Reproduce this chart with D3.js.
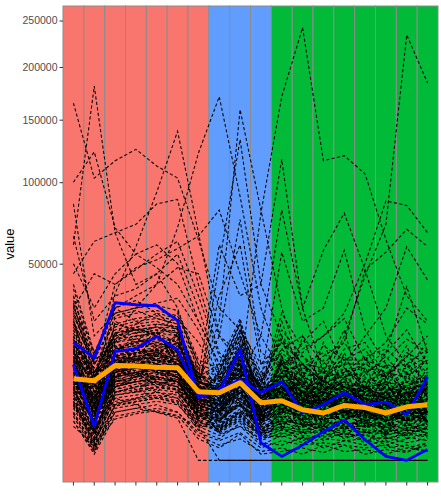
<!DOCTYPE html>
<html>
<head>
<meta charset="utf-8">
<script src="https://cdn.jsdelivr.net/npm/d3@7"></script>
<style>
  body { margin: 0; background: #fff; }
  svg { display: block; }
</style>
</head>
<body>
<svg id="chart" width="441" height="501"></svg>
<script>
// x positions (no labels shown on the axis) and the group each one belongs to
const categories = ["P01","P02","P03","P04","P05","P06","P07","P08","P09",
                    "P10","P11","P12","P13","P14","P15","P16","P17","P18"];
const groups = ["A","A","A","A","A","A","A","B","B","B","C","C","C","C","C","C","C","C"];
const groupColors = {A: "#F8766D", B: "#619CFF", C: "#00BA38"};
const yTicks = [50000, 100000, 150000, 200000, 250000];

// highlighted lines, values in thousands
const meanLine = [8.6, 8.2, 11.6, 11.5, 11.2, 11.1, 6.1, 5.9, 7.8, 4.3, 4.6, 3.3, 2.9, 3.9, 3.6, 2.9, 3.7, 4.0];
const blueLineA = [17.9, 13.6, 32.1, 31.3, 30.9, 25.2, 5.1, 6.1, 15.8, 0.4, 0.02, 0.3, 1.06, 2.1, 0.55, 0.02, 0, 0.15];
const blueLineB = [11.8, 1.5, 15.3, 16.1, 19.8, 15.8, 5.6, 6.5, 8.4, 5.9, 8.0, 2.9, 4.0, 5.9, 4.0, 4.4, 2.7, 9.0];

// individual traces with large values, in thousands
const highLines = [
  [165, 103, 116, 125, 112, 103, 63, 30, 22, 12, 14, 9, 7, 11, 6, 8, 5, 7],
  [60, 181, 67, 40, 45, 30, 10, 6, 12, 4, 6, 3, 5, 4, 3, 2, 3, 4],
  [100, 123, 70, 55, 60, 50, 25, 12, 8, 6, 5, 9, 4, 3, 5, 4, 3, 2],
  [20, 8, 36, 59, 93, 140, 67, 20, 15, 8, 6, 4, 5, 3, 4, 2, 3, 2],
  [45, 62, 67, 72, 85, 88, 40, 15, 10, 6, 8, 5, 4, 6, 3, 4, 2, 3],
  [30, 45, 40, 48, 52, 58, 65, 81, 45, 20, 10, 6, 5, 4, 6, 3, 2, 4],
  [15, 10, 20, 30, 40, 70, 122, 171, 90, 30, 12, 8, 6, 5, 4, 6, 3, 5],
  [10, 5, 12, 15, 14, 12, 8, 25, 159, 81, 30, 10, 8, 6, 5, 7, 4, 3],
  [8, 4, 10, 12, 10, 9, 6, 50, 133, 40, 117, 30, 10, 7, 5, 4, 6, 3],
  [8, 3, 10, 12, 11, 9, 6, 7, 10, 79, 171, 242, 116, 120, 106, 63, 35, 25],
  [6, 2, 8, 9, 10, 8, 5, 6, 8, 5, 10, 12, 8, 20, 44, 72, 234, 184],
  [9, 4, 12, 14, 13, 11, 7, 5, 9, 20, 81, 30, 57, 79, 47, 20, 12, 8],
  [7, 3, 9, 11, 12, 10, 6, 4, 6, 8, 56, 25, 30, 57, 22, 12, 10, 6],
  [12, 6, 14, 16, 15, 13, 8, 6, 10, 7, 12, 15, 20, 28, 50, 87, 84, 67],
  [10, 5, 11, 13, 12, 10, 7, 5, 7, 6, 9, 10, 14, 18, 47, 56, 69, 59],
  [8, 3, 9, 10, 9, 8, 5, 4, 5, 5, 8, 9, 10, 12, 20, 30, 59, 42],
  [6, 2, 7, 8, 8, 7, 4, 3, 4, 4, 6, 8, 9, 10, 12, 15, 39, 15],
  [10, 5, 12, 14, 15, 12, 8, 20, 75, 15, 12, 8, 6, 5, 4, 5, 3, 4],
  [9, 4, 11, 12, 13, 11, 7, 35, 60, 12, 18, 9, 7, 6, 5, 4, 5, 3],
  [14, 8, 16, 18, 20, 15, 9, 60, 35, 40, 20, 12, 8, 7, 6, 5, 4, 5],
  [50, 30, 45, 55, 48, 40, 25, 12, 9, 6, 5, 4, 5, 3, 4, 3, 2, 3],
  [65, 25, 35, 38, 45, 55, 30, 10, 8, 5, 7, 4, 3, 4, 5, 3, 2, 2],
  [40, 15, 30, 35, 40, 48, 45, 20, 12, 7, 6, 5, 4, 3, 3, 4, 3, 2],
  [85, 20, 28, 30, 32, 34, 22, 9, 7, 5, 4, 6, 3, 3, 2, 3, 4, 2],
  [35, 12, 40, 47, 55, 62, 35, 14, 10, 8, 6, 5, 4, 5, 3, 2, 3, 3],
  [25, 8, 30, 33, 28, 26, 18, 8, 6, 4, 5, 3, 3, 2, 4, 3, 2, 3]
];

// traces that drop to zero after the first group
const zeroLines = [
  [4, 1, 5, 4, 3, 2.3, 0, 0, 0, 0, 0, 0, 0, 0, 0, 0, 0, 0],
  [6, 0.3, 3, 3.5, 3, 2.5, 1.5, 0, 0, 0, 0, 0, 0, 0, 0, 0, 0, 0]
];

// the dense band of traces, in thousands
const bulkLines = [
  [12, 6, 14, 13, 15, 14, 5, 4, 8, 3, 4, 2, 3, 5, 2, 3, 4, 2],
  [8, 2, 10, 11, 12, 10, 4, 3, 6, 2, 6, 3, 2, 3, 4, 2, 3, 5],
  [18, 9, 16, 17, 18, 16, 7, 6, 12, 4, 8, 5, 6, 4, 7, 5, 6, 4],
  [5, 1, 7, 8, 9, 8, 3, 2, 4, 1.5, 2, 1, 1.5, 2, 1, 1.2, 0.8, 1.5],
  [22, 10, 20, 22, 21, 18, 8, 7, 14, 5, 10, 6, 4, 7, 5, 6, 3, 8],
  [10, 4, 12, 13, 13, 12, 6, 3, 7, 3, 5, 4, 5, 3, 3, 4, 2, 3],
  [15, 7, 9, 10, 11, 12, 4, 5, 9, 2.5, 7, 3, 4, 6, 3, 2, 4, 3],
  [7, 0.5, 6, 7, 8, 7, 2.5, 1.5, 3, 1, 1.8, 2.2, 1, 1.4, 2, 0.8, 1.2, 1],
  [28, 12, 22, 24, 25, 22, 9, 8, 16, 6, 12, 7, 8, 9, 6, 8, 7, 10],
  [3, 0.2, 4, 5, 6, 5, 2, 1, 2, 0.5, 1, 0.6, 0.8, 1.1, 0.5, 0.7, 0.4, 0.6],
  [9, 4.5, 19, 12, 8, 16, 3, 6.5, 4, 2, 9, 1.5, 5, 2.5, 6, 1.8, 3.5, 7],
  [20, 3, 8, 15, 22, 11, 6.5, 2.5, 18, 5.5, 3, 7.5, 2, 8, 3.5, 5, 1.5, 4],
  [6, 8, 12, 9, 14, 20, 4.5, 9, 5, 1.2, 2.5, 4.5, 8.5, 3, 1.5, 6.5, 5.5, 2],
  [14, 1.2, 15, 20, 11, 9, 2, 3.5, 13, 7, 1.5, 3, 6, 10, 4, 2.5, 8, 3],
  [35, 10, 13, 11, 17, 15, 7.5, 4, 7, 2.2, 11, 5, 3.2, 1.5, 9, 4.5, 2.8, 6],
  [11, 2.8, 7, 6, 9.5, 13, 8, 1.8, 3, 4, 5.5, 9, 4, 6.5, 2.2, 7.5, 3.8, 1.2],
  [4, 0.6, 11, 16, 13, 7, 1.5, 5, 10, 1.6, 14, 2.5, 1.2, 3.5, 5, 1, 2.5, 9.5],
  [24, 13, 17, 14, 10, 19, 5, 7.5, 21, 3, 4.5, 12, 7, 2.2, 3.2, 10, 6, 3.5],
  [8, 5, 21, 18, 24, 23, 9.5, 2, 6, 0.8, 3.5, 1, 2.4, 5.5, 1.4, 2, 0.6, 2.8],
  [16, 0.9, 9, 12, 7.5, 8.5, 3.2, 8, 16, 6.5, 8, 5.5, 11, 4, 7.5, 3, 5, 11],
  [2.5, 0.1, 3.5, 4, 4.5, 4, 1.5, 0.8, 1.5, 0.3, 0.8, 0.4, 0.6, 0.5, 0.3, 0.5, 0.2, 0.4],
  [12, 4.5, 16, 18, 19, 17, 7, 6, 12, 4.5, 8, 6, 5.5, 7, 6, 5, 5.5, 7],
  [30, 14, 24, 26, 27, 25, 11, 9, 20, 8, 15, 10, 9, 10, 11, 9, 10, 13],
  [7.5, 7, 14, 8, 6, 10, 2.2, 4, 2.5, 2.8, 6.5, 0.7, 3.8, 1.8, 4.5, 0.9, 6.5, 1.6],
  [19, 2, 25, 21, 16, 12, 6, 10, 25, 2, 5, 4, 9, 12, 2.5, 5.5, 7, 4.5],
  [5.5, 1.2, 6, 7, 7.5, 7, 3, 2.2, 3.8, 1.3, 2, 1.7, 1.3, 1.7, 1.8, 1.4, 1.6, 1.3],
  [10, 3.8, 12, 13.5, 14, 13, 5.2, 4.2, 8.5, 3, 5, 3.5, 4, 4, 3.2, 3.8, 3.5, 4.2],
  [26, 6, 11, 9, 12, 17, 11, 3, 9, 5, 12.5, 2.2, 6.5, 8.5, 4, 2.4, 9, 5.5],
  [3.5, 0.4, 5, 5.5, 6, 5.5, 2, 1.2, 2.5, 0.8, 1.5, 0.9, 1.1, 1.2, 1, 0.9, 1, 0.8],
  [13, 9, 18, 23, 20, 14, 4, 6, 11, 1.8, 3, 6.5, 1.6, 4.5, 8, 3.6, 2, 6],
  [9.5, 2.8, 11, 12, 12.5, 11.5, 4.5, 3.2, 6.5, 2.2, 4.2, 2.8, 3.2, 3.8, 2.6, 3, 2.8, 3.4],
  [21, 9.5, 21, 23, 24, 23, 8.5, 7.5, 15, 6, 11, 7.5, 6, 8, 7, 7.5, 8, 9],
  [6.5, 1.8, 9, 10, 11, 10, 4, 3, 5.5, 2, 3.8, 2.4, 2.6, 2.8, 2.4, 2, 2.6, 2.2],
  [15, 3.5, 13, 11, 15, 18, 6, 9.5, 14, 3.8, 6, 8, 3, 5.8, 7, 4, 3, 8.5],
  [4.5, 1, 6.5, 7.5, 8, 7.5, 2.8, 2, 4, 1.4, 2.4, 1.6, 1.8, 1.9, 1.5, 1.6, 1.3, 1.7],
  [11, 5.5, 8, 10, 7, 9, 4.2, 1, 7.5, 0.6, 1.2, 5, 0.9, 2, 3.6, 0.7, 4.8, 2],
  [27, 13, 26, 28, 29, 27, 12, 10, 22, 9, 16, 11, 10, 12, 12, 10, 11, 14],
  [8.5, 3.2, 10, 11, 11, 10.5, 4.8, 3.5, 6, 2.4, 3.5, 3, 2.4, 3, 3, 2.6, 3.2, 2.8],
  [2, 0.05, 2.5, 3, 3.5, 3, 1, 0.5, 1, 0.2, 0.5, 0.3, 0.4, 0.3, 0.2, 0.3, 0.1, 0.3],
  [17, 11, 10, 13, 16, 10, 3.5, 7, 4.5, 3.4, 9.5, 4.2, 7.5, 2.4, 5.2, 8, 2.2, 4.8],
  [18, 7.5, 19, 21, 22, 21, 7.2, 6.2, 12.5, 4.8, 8.5, 6.2, 5.8, 7, 6.2, 5.8, 6.5, 7.5],
  [6, 2.2, 7.5, 8.5, 9, 8.5, 3.2, 2.6, 4.2, 1.8, 3.2, 2.2, 2.2, 2.6, 2.4, 2.2, 2.4, 2.2],
  [12.5, 4.8, 9.5, 10.5, 11, 10.5, 4.6, 3.8, 7, 2.8, 4.8, 3.4, 3.8, 4.2, 3.4, 3.6, 3.4, 4],
  [4, 0.6, 4.5, 5, 5.5, 5, 1.8, 1.5, 3, 1, 1.5, 1.2, 1.4, 1.6, 1.2, 1.1, 1.4, 1.2],
  [33, 15, 28, 30, 31, 29, 13, 11, 24, 10, 18, 12, 11, 13, 13, 11, 12, 16],
  [10.5, 4.2, 13, 14, 14.5, 13.5, 5.5, 4.4, 9, 3.3, 6, 4.4, 4.4, 5, 4, 4.2, 4.1, 4.8],
  [16.5, 7, 16, 17, 17.5, 16, 6.2, 5.2, 10, 3.8, 6.8, 4.6, 4.6, 5.6, 4.8, 4.6, 5.2, 5.8],
  [7.5, 2.6, 8.5, 9.5, 10, 9, 3.8, 2.9, 5, 2, 3.4, 2.6, 2.6, 3, 2.6, 2.4, 2.8, 3],
  [13, 4, 7, 9, 12, 6, 2.6, 3.2, 8, 2.6, 7, 1.4, 3.4, 5, 1.6, 2.8, 3.8, 10],
  [9, 1.5, 14, 10, 8.5, 11, 5.5, 1.4, 2, 0.9, 2.2, 3.6, 7, 1.2, 2.4, 4.4, 1.8, 0.9],
  [24, 8, 12, 16, 14, 21, 7, 5.5, 19, 4, 13, 7, 4.5, 9, 10, 6, 8, 6.5],
  [5, 3, 9, 6.5, 5, 6, 1.2, 2.8, 6.5, 1.5, 4, 2, 1.5, 0.8, 1.8, 0.6, 1, 3.6],
  [31, 12, 15, 19, 21, 13, 10, 6, 10, 7.5, 20, 5, 8, 14, 6.5, 12, 5.5, 9],
  [14, 5, 13, 15, 16, 15, 6, 4.5, 9, 3.2, 12, 6, 9, 4, 11, 5, 7, 3],
  [9, 2.5, 9.5, 10, 10.5, 10, 4, 3, 7, 2.4, 3, 10, 5, 3.2, 6, 9, 4, 6],
  [19, 8.5, 17, 18, 19.5, 18, 7, 5, 11, 2, 5.5, 3.5, 13, 6, 3, 4.5, 12, 5],
  [6.5, 1, 8, 9, 10, 9.5, 3.6, 2.4, 8, 1.2, 2.8, 5, 2, 9, 2.8, 1.5, 3.4, 7.5],
  [23, 11, 18, 20, 21, 22, 8, 6.5, 17, 6, 22, 14, 8, 16, 18, 9, 14, 20],
  [11.5, 3, 11, 12.5, 13, 12, 5, 7, 12, 4.5, 10, 18, 25, 11, 7, 15, 22, 12],
  [3, 0.3, 5.5, 6, 6.5, 6, 2.4, 1.6, 3.2, 1.8, 5, 8, 3.5, 2, 7, 3, 1.5, 2.5],
  [17, 6, 14, 15, 15.5, 15, 6.5, 5.5, 13, 3, 7, 4, 2.5, 6, 9.5, 14, 8, 5.5],
  [8, 3.5, 7.5, 8, 8.5, 8, 3.4, 2.2, 4.5, 2.6, 1.6, 2.8, 4.8, 1.6, 2.2, 3.4, 6, 1.8],
  [29, 10, 21, 22, 23, 20, 9, 8.5, 19, 7, 28, 16, 20, 26, 13, 18, 30, 24],
  [12, 5.5, 15, 16.5, 17, 16, 6.4, 4.8, 10, 5, 9, 3, 6.5, 8, 5, 3, 6, 8],
  [5, 0.8, 6, 6.5, 7, 6.5, 2.6, 1.9, 4.5, 1.1, 1.8, 1.4, 2, 1.3, 1.6, 2, 1.1, 1.9],
  [15.5, 6.8, 12, 13, 14, 14, 5.8, 4.6, 11, 4.2, 6.2, 7, 4.2, 5, 6.6, 5.4, 3.8, 6.8],
  [10, 2, 11.5, 12, 13, 12.5, 5, 3.8, 6, 2.4, 4.4, 3.2, 5.6, 3.6, 2.8, 5, 4.2, 2.6],
  [20, 9, 23, 25, 26, 24, 8, 7, 13, 5.2, 7.8, 5.8, 7.2, 6.4, 8.2, 7, 5.8, 7.8],
  [7, 2.4, 10.5, 11.5, 12, 11, 4.4, 3.4, 5.8, 2.2, 3.6, 2.4, 3, 3.4, 2, 3.2, 2.4, 3.6],
  [13.5, 5.2, 10.5, 11, 11.5, 11, 4.8, 4, 9.5, 3.6, 5.2, 3.8, 4.2, 4.6, 4.4, 3.4, 4.6, 4.4],
  [4.2, 0.7, 7, 8, 8.5, 8, 3, 2.2, 4.2, 1.6, 2.6, 1.8, 2.2, 2.4, 1.9, 1.7, 2.2, 2],
  [25, 12, 20, 21, 23, 21, 9.5, 8, 17, 6.5, 10, 8, 7.5, 9.5, 8.5, 8, 9.5, 11],
  [9, 3, 12.5, 13.5, 13.5, 12.5, 5, 4, 8, 2.9, 4.6, 3.6, 3.2, 4.4, 3.6, 3.2, 3.6, 3.8],
  [16, 7.5, 14.5, 15.5, 16.5, 15.5, 6.6, 5.4, 11.5, 4.4, 7.2, 5.2, 5.6, 5.2, 5.4, 5.6, 5.8, 6.2],
  [2.8, 0.15, 4.2, 4.8, 5.2, 4.6, 1.7, 1.1, 2.2, 0.7, 1.2, 0.8, 0.7, 0.9, 0.8, 0.6, 0.9, 0.7],
  [11, 4.6, 13.5, 14.5, 15.5, 14.5, 6, 4.6, 9.5, 3.4, 5.4, 4, 4.8, 5.4, 4.6, 4.4, 4.8, 5.2],
  [8, 1.6, 8, 8.5, 9.5, 9, 3.6, 2.6, 5.2, 1.9, 3, 2.6, 2.2, 2.4, 2.8, 2.4, 2.2, 2.6],
  [22, 9, 19, 20, 21, 20, 8, 6.8, 14.5, 5.4, 9.5, 6.8, 6.4, 7.4, 7, 6.6, 7.2, 8.4],
  [6, 1.4, 5.5, 6.2, 6.8, 6.4, 2.6, 1.8, 3.4, 1.2, 2.2, 1.6, 1.7, 2, 1.4, 1.5, 1.8, 1.6],
  [14, 6.2, 16.5, 17.5, 18.5, 17.5, 6.8, 5.6, 10.5, 4.4, 7, 5.4, 5.2, 6.2, 5.6, 5, 5.8, 6.4],
  [10, 3.6, 9, 9.8, 10.5, 10, 4.2, 3.4, 7.2, 2.6, 4, 3.2, 3, 3.6, 3.2, 2.9, 3.4, 3.4],
  [3.8, 0.5, 3.8, 4.4, 5, 4.4, 1.6, 1.3, 2.6, 0.9, 1.3, 1, 1.2, 1.4, 1, 1.1, 1.2, 1],
  [18, 8, 21, 22, 23, 22.5, 7.8, 6.4, 13.5, 5, 8, 6, 6.2, 6.8, 6.6, 6.2, 6.8, 7.2],
  [8, 2, 9, 10, 11, 10, 3, 2, 5, 3, 14, 4, 18, 6, 2, 12, 4, 16],
  [12, 4, 12, 13, 14, 13, 5, 3, 6, 6, 25, 8, 3, 15, 5, 2, 10, 3],
  [10, 3, 10, 11, 12, 11, 4, 2.5, 4, 1, 3, 20, 6, 1, 14, 6, 1.2, 8],
  [7, 1, 7, 8, 9, 8, 3, 1.2, 3, 2, 8, 1.5, 10, 22, 4, 0.8, 5, 2],
  [15, 5, 14, 15, 16, 15, 6, 4, 8, 0.6, 2, 6, 1.5, 4, 1, 9, 17, 5],
  [2, 0.1, 3, 3.5, 4, 3, 0.8, 0.3, 0.6, 0.1, 0.2, 0.05, 0.3, 0.1, 0.15, 0.05, 0.2, 0.1],
  [1.5, 0.3, 2.2, 2.8, 3.2, 2.6, 0.6, 0.2, 0.9, 0.05, 0.1, 0.2, 0.08, 0.3, 0.05, 0.15, 0.08, 0.4],
  [5, 0.2, 4, 4.5, 5, 4.2, 1.2, 0.6, 1.8, 0.4, 0.3, 0.7, 0.2, 0.5, 0.6, 0.2, 0.3, 0.1],
  [16, 4, 18, 19, 17, 20, 6, 9, 22, 8, 19, 12, 15, 10, 14, 16, 11, 18],
  [20, 7, 24, 22, 20, 18, 9, 12, 26, 6, 16, 20, 12, 18, 10, 13, 19, 15],
  [13, 3, 14, 16, 18, 16, 5, 10, 24, 3, 13, 9, 17, 13, 16, 8, 15, 12],
  [9, 1.8, 10, 11, 12, 11, 4, 0.9, 1.5, 0.6, 0.9, 1.8, 0.5, 1, 0.4, 1.5, 0.7, 0.5],
  [7, 1.2, 8, 9, 9, 8, 2.8, 1.1, 2.4, 0.8, 0.7, 1.2, 1.6, 0.6, 1.1, 0.4, 0.9, 1.4],
  [32, 9, 27, 29, 26, 24, 8, 6, 11, 4, 6.5, 4.8, 9, 7, 4.4, 5.8, 6, 4.6],
  [38, 14, 30, 25, 20, 28, 12, 7, 14, 5, 9, 12, 6, 11, 8, 10, 9, 13],
  [12, 6, 19, 24, 28, 22, 8.5, 11, 20, 9, 12, 14, 10, 9, 12, 9, 14, 10],
  [4.5, 0.4, 6, 7, 7.5, 6.5, 2.2, 1.4, 2.8, 0.9, 1.4, 0.5, 1, 0.7, 0.9, 0.3, 0.6, 0.9]
];

const svg = d3.select("#chart");
const panel = {left: 63, right: 438, top: 6, bottom: 482};

// sqrt scale, expanded 5% on both sides of the transformed range like ggplot
const dataMax = d3.max(highLines.concat(bulkLines), s => d3.max(s)) * 1000;
const sMax = Math.sqrt(dataMax);
const sLo = -0.05 * sMax, sHi = sMax * 1.05;
const ty = d3.scaleLinear().domain([sLo, sHi]).range([panel.bottom, panel.top]);
const y = d3.scaleSqrt().domain([0, 250000]).range([ty(0), ty(500)]);

const x = d3.scaleBand().domain(categories).range([panel.left, panel.right]).padding(0);
const xc = c => x(c) + x.bandwidth() / 2;

// coloured tiles behind each x position
svg.append("g").selectAll("rect")
  .data(categories)
  .enter().append("rect")
    .attr("x", d => x(d))
    .attr("y", panel.top)
    .attr("width", x.bandwidth())
    .attr("height", panel.bottom - panel.top)
    .attr("fill", (d, i) => groupColors[groups[i]])
    .attr("stroke", "#8c8c8c")
    .attr("stroke-width", 1);

const line = d3.line()
  .x((d, i) => xc(categories[i]))
  .y(d => y(d * 1000));

const traces = highLines.concat(bulkLines, zeroLines);
svg.append("g").selectAll("path")
  .data(traces)
  .enter().append("path")
    .attr("d", line)
    .attr("fill", "none")
    .attr("stroke", "#000")
    .attr("stroke-width", 1.05)
    .attr("stroke-dasharray", "3.2,2.3");

[blueLineA, blueLineB].forEach(s => {
  svg.append("path")
    .attr("d", line(s))
    .attr("fill", "none")
    .attr("stroke", "#0000FF")
    .attr("stroke-width", 2.8)
    .attr("stroke-linejoin", "round");
});

svg.append("path")
  .attr("d", line(meanLine))
  .attr("fill", "none")
  .attr("stroke", "#FFA500")
  .attr("stroke-width", 5)
  .attr("stroke-linejoin", "round");

// axes
const yAxis = svg.append("g")
  .attr("transform", "translate(" + panel.left + ",0)")
  .call(d3.axisLeft(y).tickValues(yTicks).tickSize(3.5).tickPadding(2).tickFormat(d3.format("d")));
yAxis.select(".domain").remove();
yAxis.selectAll("line").attr("stroke", "#333");
yAxis.selectAll("text")
  .attr("fill", "#4d4d4d")
  .style("font-family", "'Liberation Sans', Arial, sans-serif")
  .style("font-size", "10.5px");

const xAxis = svg.append("g")
  .attr("transform", "translate(0," + panel.bottom + ")")
  .call(d3.axisBottom(x).tickSize(3.5).tickFormat(""));
xAxis.select(".domain").remove();
xAxis.selectAll("line").attr("stroke", "#333");

svg.append("text")
  .attr("transform", "translate(14," + ((panel.top + panel.bottom) / 2) + ") rotate(-90)")
  .attr("text-anchor", "middle")
  .style("font-family", "'Liberation Sans', Arial, sans-serif")
  .style("font-size", "13px")
  .attr("fill", "#000")
  .text("value");
</script>
</body>
</html>
